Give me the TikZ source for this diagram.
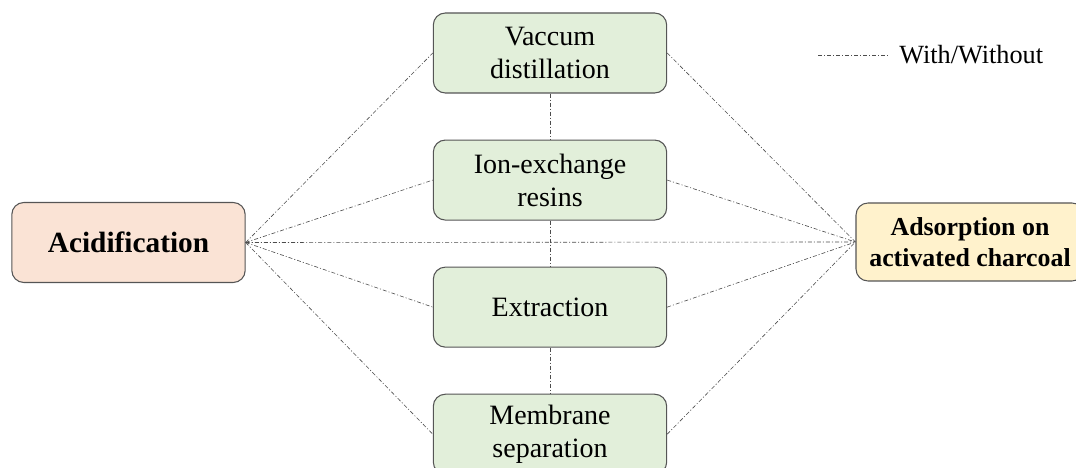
\documentclass[tikz,border=0pt]{standalone}
\usepackage{fontspec}
\setmainfont{Liberation Serif}
\usepackage{xcolor}
\usetikzlibrary{positioning}
\definecolor{acidfill}{HTML}{FAE3D5}
\definecolor{procfill}{HTML}{E2EFDA}
\definecolor{sorbfill}{HTML}{FFF2CC}
\definecolor{edgegray}{HTML}{555555}

\begin{document}
\begin{tikzpicture}[
  x=0.75pt, y=0.75pt,
  node distance=34.5pt,
  box/.style={draw=edgegray, line width=0.8pt, rounded corners=9pt, align=center,
    minimum width=175pt, minimum height=60pt},
  acid/.style={box, fill=acidfill, font=\fontsize{22}{26}\selectfont\bfseries},
  proc/.style={box, fill=procfill, font=\fontsize{21}{24.75}\selectfont},
  sorb/.style={box, fill=sorbfill, minimum width=171pt, minimum height=58.5pt,
    font=\fontsize{19.4}{23}\selectfont\bfseries},
  wline/.style={draw=black!70, line width=0.45pt,
    dash pattern=on 3pt off 1.5pt on 0.8pt off 1.5pt},
]
\clip (0,0) rectangle (1076,468);

% Left and right ends
\node[acid] (acid) at (128.5,225.5) {Acidification};
\node[sorb] (sorb) at (970,226) {Adsorption on\\activated charcoal};

% Middle column
\node[proc] (vac) at (550,415) {Vaccum\\distillation};
\node[proc, below=of vac] (ion) {Ion-exchange\\resins};
\node[proc, below=of ion] (ext) {Extraction};
\node[proc, below=of ext] (mem) {Membrane\\separation};

% Legend
\coordinate (legs) at (818,413);
\node[anchor=west, inner xsep=8.25pt, inner ysep=0pt,
  font=\fontsize{19.7}{22}\selectfont] (legtxt) at (888,413) {With/Without};
\draw[wline] (legs) -- (legtxt.west);

% Edges
\foreach \p in {vac,ion,ext,mem}{
  \draw[wline] (acid.east) -- (\p.west);
  \draw[wline] (\p.east) -- (sorb.west);
}
\draw[wline] (acid.east) -- (sorb.west);
\draw[wline] (vac.south) -- (ion.north);
\draw[wline] (ion.south) -- (ext.north);
\draw[wline] (ext.south) -- (mem.north);

\end{tikzpicture}
\end{document}
